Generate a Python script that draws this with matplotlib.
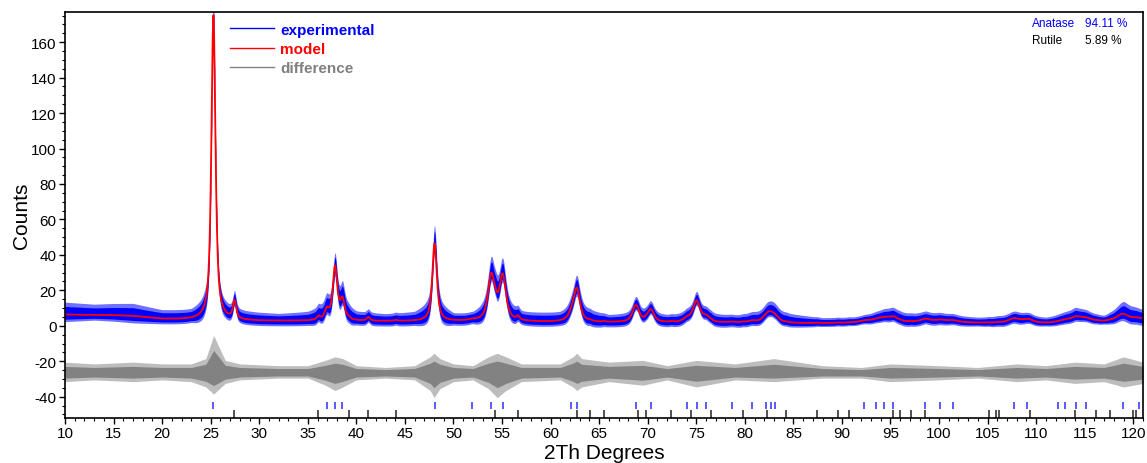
import numpy as np
import matplotlib.pyplot as plt
from matplotlib.lines import Line2D

plt.rcParams['font.family'] = ['Liberation Sans', 'DejaVu Sans']
plt.rcParams['axes.unicode_minus'] = False

# background knots (2theta, counts)
bg_x = [10, 15, 17, 20, 23, 30, 35, 45, 55, 65, 80, 88, 100, 105, 112, 121]
bg_y = [6.3, 6.0, 5.5, 3.8, 3.3, 2.7, 2.7, 2.5, 2.3, 1.9, 1.5, 1.4, 2.1, 1.5, 1.2, 2.9]

# model peaks: position, height above background, fwhm
anatase_pos = [25.28, 36.95, 37.80, 38.57, 48.05, 51.9, 53.89, 55.06, 62.12, 62.69,
               68.76, 70.31, 74.03, 75.03, 76.02, 78.65, 80.73, 82.14, 82.66, 83.15,
               92.3, 93.5, 94.35, 95.3, 98.6, 100.1, 101.4, 107.7, 109.1, 112.3,
               113.0, 114.1, 115.1, 118.9, 120.6]
anatase_h = [172, 5.5, 30, 11, 44, 0.5, 25, 25, 3, 18,
             9, 7, 2, 12, 3, 0.5, 1, 2.5, 4, 2.5,
             1.0, 1.2, 2.0, 2.5, 1.5, 1.0, 1.0, 2.5, 2.0, 0.5,
             1.0, 2.5, 2.0, 4.0, 1.0]
anatase_w = [0.5, 0.55, 0.55, 0.55, 0.55, 0.8, 0.8, 0.8, 0.8, 0.8,
             0.8, 0.8, 0.85, 0.85, 0.85, 1.0, 1.0, 1.0, 1.0, 1.0,
             1.3, 1.3, 1.3, 1.3, 1.3, 1.3, 1.3, 1.4, 1.4, 1.4,
             1.4, 1.5, 1.5, 1.5, 1.5]

rutile_pos = [27.45, 36.09, 39.19, 41.23, 44.05, 54.32, 56.64, 62.74, 64.04, 65.48,
              69.01, 69.79, 72.41, 74.41, 76.51, 79.82, 82.33, 84.26, 87.46, 89.56,
              90.71, 95.27, 96.0, 97.1, 98.6, 105.1, 105.9, 106.2, 109.4, 114.0,
              116.2, 117.6, 120.0, 120.3]
rutile_h = [10, 2, 0.8, 2, 0.5, 3, 2, 0.5, 0.5, 0.3,
            1, 0.5, 0.3, 0.3, 0.5, 0.3, 0.5, 0.3, 0.2, 0.2,
            0.2, 0.3, 0.2, 0.2, 0.2, 0.2, 0.2, 0.2, 0.2, 0.3,
            0.2, 0.2, 0.3, 0.3]
rutile_w = 0.4

# noise extents of the measured trace around the model (counts)
spread_x = [10, 13, 17, 20, 23, 24.5, 25.3, 26.5, 28, 32, 35, 36.8, 37.8, 38.6, 40, 43,
            46, 47.6, 48, 48.6, 50, 52, 53.6, 54.5, 55.4, 57, 61, 62.3, 62.7, 63.2, 66,
            69.5, 72, 75, 79, 83, 88, 92, 95, 100, 104, 108, 111, 114, 117, 119, 121]
exp_up = [7, 6, 7, 5, 5, 8, 5, 6, 5, 4, 5, 8, 7, 9, 5, 4,
          5, 9, 10, 8, 4, 4, 9, 10, 8, 5, 5, 7, 7, 7, 4,
          5, 4, 5, 4, 6, 3, 3, 5, 4, 3, 4, 3, 5, 3, 7, 5]
exp_dn = [4, 3, 4, 3, 3, 6, 8, 4, 3, 3, 3, 4, 6, 5, 3, 3,
          3, 5, 6, 5, 3, 3, 5, 5, 5, 3, 3, 4, 5, 4, 3,
          3, 3, 3, 3, 3, 2, 2, 3, 3, 2, 3, 2, 3, 2, 4, 4]
diff_up = [6, 5, 6, 5, 5, 8, 21, 7, 5, 4, 4, 7, 9, 8, 4, 3,
           4, 9, 11, 8, 5, 4, 9, 11, 9, 5, 5, 9, 11, 8, 6,
           7, 4, 7, 5, 8, 4, 3, 5, 4, 3, 5, 4, 6, 5, 9, 6]
diff_dn = [5, 4, 5, 4, 5, 8, 12, 6, 4, 3, 3, 7, 10, 8, 4, 3,
           4, 10, 14, 9, 5, 4, 9, 14, 10, 5, 4, 8, 10, 8, 5,
           7, 4, 8, 4, 5, 3, 3, 5, 4, 3, 5, 4, 6, 5, 8, 6]
diff_offset = -26.5

phase_names = ['Anatase', 'Rutile']
phase_pct = [94.11, 5.89]


def pvoigt(x, pos, h, w, eta=0.75):
    g = np.exp(-4 * np.log(2) * ((x - pos) / w) ** 2)
    l = 1 / (1 + 4 * ((x - pos) / w) ** 2)
    return h * (eta * l + (1 - eta) * g)


tth = np.arange(10, 121.01, 0.02)
model = np.interp(tth, bg_x, bg_y)
for p, h, w in zip(anatase_pos, anatase_h, anatase_w):
    model += pvoigt(tth, p, h, w)
for p, h in zip(rutile_pos, rutile_h):
    model += pvoigt(tth, p, h, rutile_w)

up = np.interp(tth, spread_x, exp_up)
dn = np.interp(tth, spread_x, exp_dn)
dup = np.interp(tth, spread_x, diff_up)
ddn = np.interp(tth, spread_x, diff_dn)

fig = plt.figure(figsize=(11.47, 4.64), dpi=100)
ax = fig.add_axes([0.0567, 0.097, 0.9398, 0.875])

# measured pattern
ax.fill_between(tth, model - dn, model + up, color='#7070ff', lw=0)
ax.fill_between(tth, model - 0.65 * dn, model + 0.65 * up, color='#0000ff', lw=0)
# difference
ax.fill_between(tth, diff_offset - ddn, diff_offset + dup, color='#bdbdbd', lw=0)
ax.fill_between(tth, diff_offset - 0.6 * ddn, diff_offset + 0.6 * dup, color='#828282', lw=0)
# model
ax.plot(tth, model, color='#ff0000', lw=1.3)

# reflection markers
ax.vlines(anatase_pos, -46.8, -42.8, color='#5a5aff', lw=1.4)
ax.vlines(rutile_pos, -52, -47.3, color='#333333', lw=1.2)

ax.set_xlim(10, 121)
ax.set_ylim(-52, 177)
ax.set_xticks(np.arange(10, 121, 5))
ax.set_xticks(np.arange(10, 122, 1), minor=True)
ax.set_yticks(np.arange(-40, 161, 20))
ax.set_yticks(np.arange(-50, 176, 5), minor=True)
ax.tick_params(which='major', length=4, width=1, labelsize=11, pad=2)
ax.tick_params(which='minor', length=2.5, width=0.8)
for s in ax.spines.values():
    s.set_linewidth(1.2)

ax.set_ylabel('Counts', fontsize=15, labelpad=0)
ax.set_xlabel('2Th Degrees', fontsize=15, labelpad=2)

handles = [Line2D([], [], color='#0000ff', lw=1),
           Line2D([], [], color='#ff0000', lw=1),
           Line2D([], [], color='#808080', lw=1)]
ax.legend(handles, ['experimental', 'model', 'difference'],
          labelcolor=['#0000ff', '#ff0000', '#808080'],
          prop={'size': 11, 'weight': 'bold'},
          loc='upper left', bbox_to_anchor=(0.143, 1.0), frameon=False,
          handlelength=2.9, handletextpad=0.4,
          labelspacing=0.35, borderpad=0.2)

fig.text(1032 / 1147, 1 - 24 / 464, phase_names[0], color='#0000ff', fontsize=8.5, va='center')
fig.text(1085 / 1147, 1 - 24 / 464, '%.2f %%' % phase_pct[0], color='#0000ff', fontsize=8.5, va='center')
fig.text(1032 / 1147, 1 - 41 / 464, phase_names[1], color='black', fontsize=8.5, va='center')
fig.text(1085 / 1147, 1 - 41 / 464, '%.2f %%' % phase_pct[1], color='black', fontsize=8.5, va='center')

fig.savefig('out.png', dpi=100)
